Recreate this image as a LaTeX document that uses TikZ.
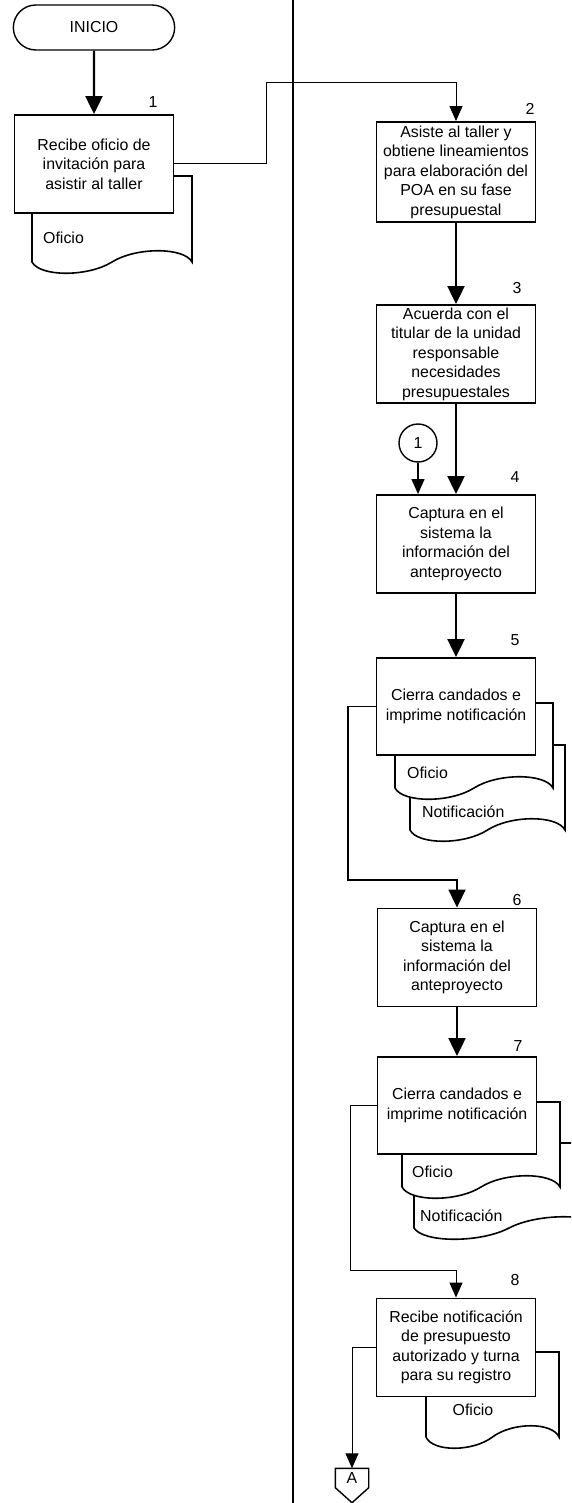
\documentclass[tikz,border=0pt]{standalone}
\usepackage{fontspec}
\setmainfont{Liberation Sans}
\usetikzlibrary{arrows.meta,shapes.misc}
\newcommand{\docwave}[4]{%
  \pgfmathsetmacro{\dw}{#3-#1}%
  \draw[docu] (#1,#2) -- (#1,#4)
    .. controls (#1+0.05*\dw,#4+15) and (#1+0.35*\dw,#4+15) .. (#1+0.5*\dw,#4)
    .. controls (#1+0.65*\dw,#4-15) and (#1+0.95*\dw,#4-15) .. (#3,#4)
    -- (#3,#2) -- cycle;}
\begin{document}
\begin{tikzpicture}[x=1pt, y=-1pt]
	\tikzset{txt/.style={font=\fontsize{15.9}{19.5}\selectfont}}
	\tikzset{proc/.style={txt, draw, fill=white, line width=1.9pt, minimum width=159pt, minimum height=98pt, inner sep=0pt, align=center}}
	\tikzset{docu/.style={draw, fill=white, line width=1.6pt}}
	\tikzset{lbl/.style={txt, inner sep=0pt}}
	\tikzset{ar/.style={-{Triangle[length=18pt,width=17pt]}, line width=2.2pt}}
	\tikzset{ln/.style={-{Triangle[length=15pt,width=13pt]}, line width=1pt}}
	\path[use as bounding box, clip] (0,0) rectangle (571,1503);
	\draw[line width=2.4pt] (293,0) -- (293,1503);
	\docwave{32}{176}{192}{262}
	\docwave{410}{745}{565}{830}
	\docwave{395}{703}{553}{788}
	\docwave{414}{1143}{604}{1228}
	\docwave{402}{1102}{560}{1187}
	\docwave{426}{1352}{559}{1437}
	\node[lbl, anchor=west] (of1) at (43,238) {Oficio};
	\node[lbl, anchor=west] (of5) at (407,773) {Oficio};
	\node[lbl, anchor=west] (nt5) at (422,812) {Notificación};
	\node[lbl, anchor=west] (of7) at (412,1172) {Oficio};
	\node[lbl, anchor=west] (nt7) at (420,1216) {Notificación};
	\node[lbl] (of8) at (473,1410) {Oficio};
	\node[txt, draw, rounded rectangle, line width=1.4pt, minimum width=168pt, minimum height=45pt] (inicio) at (94,27.5) {INICIO};
	\node[proc] at (94,164) (b1) {Recibe oficio de\\invitación para\\asistir al taller};
	\node[proc, minimum height=100pt] at (456,172) (b2) {Asiste al taller y\\obtiene lineamientos\\para elaboración del\\POA en su fase\\presupuestal};
	\node[proc] at (456,354) (b3) {Acuerda con el\\titular de la unidad\\responsable\\necesidades\\presupuestales};
	\node[txt, draw, circle, line width=1.4pt, minimum size=38pt, inner sep=0pt] at (418,443) (con1) {1};
	\node[proc] at (456,544) (b4) {Captura en el\\sistema la\\información del\\anteproyecto};
	\node[proc, minimum height=97pt] at (456,706.5) (b5) {Cierra candados e\\imprime notificación};
	\node[proc] at (457,957.5) (b6) {Captura en el\\sistema la\\información del\\anteproyecto};
	\node[proc, minimum height=97pt] at (457,1105.5) (b7) {Cierra candados e\\imprime notificación};
	\node[proc] at (456,1347.5) (b8) {Recibe notificación\\de presupuesto\\autorizado y turna\\para su registro};
	\node[txt, minimum width=33pt, minimum height=19pt, inner sep=0pt] at (352,1478) (offA) {A};
	\draw[line width=1.4pt] (offA.north west) -- (offA.south west) -- ([yshift=-15pt]offA.south) -- (offA.south east) -- (offA.north east) -- cycle;
	\node[lbl] at (153,102) (n1) {1};
	\node[lbl] at (530,109) (n2) {2};
	\node[lbl] at (517,288) (n3) {3};
	\node[lbl] at (515,477) (n4) {4};
	\node[lbl] at (515,640) (n5) {5};
	\node[lbl] at (517,900) (n6) {6};
	\node[lbl] at (518,1046) (n7) {7};
	\node[lbl] at (515,1280) (n8) {8};
	\coordinate (k1) at (266,83);
	\coordinate (k2) at (348,880);
	\coordinate (k3) at (350,1270);
	\path[ar] (inicio) edge (b1);
	\draw[ln] (b1.east) -| (k1) -| (b2.north);
	\path[ar] (b2) edge (b3);
	\path[ar] (b3) edge (b4);
	\draw[ln, line width=1.3pt] (con1) -- (con1 |- b4.north);
	\path[ar] (b4) edge (b5);
	\draw[ar, line width=1.8pt] (b5.west) -| (k2) -| (b6.north);
	\path[ar] (b6) edge (b7);
	\draw[ln] (b7.west) -| (k3) -| (b8.north);
	\draw[ln] (b8.west) -| (offA.north);
\end{tikzpicture}
\end{document}
